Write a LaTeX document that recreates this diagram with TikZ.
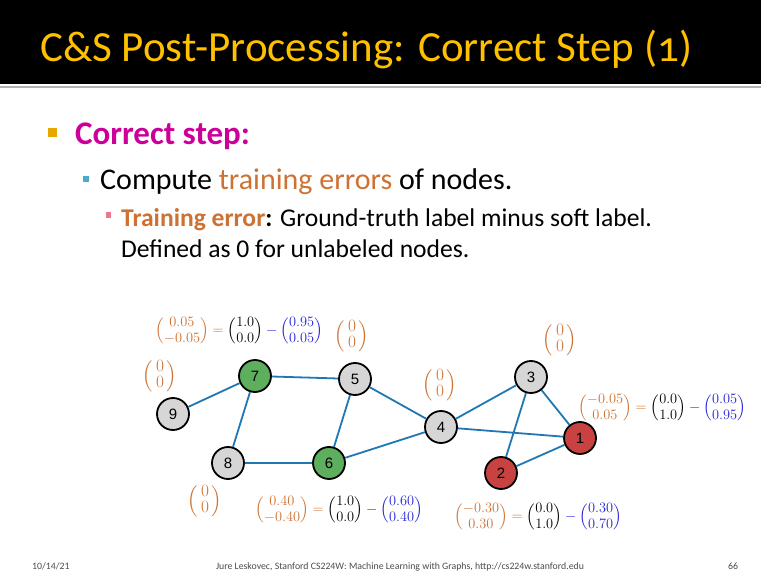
\documentclass[tikz,border=0pt]{standalone}
\usepackage{amsmath}
\usepackage{fontspec}
\setmainfont{Carlito}
\newfontfamily\titlefont[Numbers=OldStyle]{Carlito}
\newfontfamily\arialf{Liberation Sans}
\definecolor{ttlyellow}{HTML}{FFC000}
\definecolor{magent}{HTML}{CC0099}
\definecolor{orng}{HTML}{CD7232}
\definecolor{mblue}{HTML}{2323DC}
\definecolor{edgeblue}{HTML}{1F77B4}
\definecolor{ngray}{HTML}{D6D6D6}
\definecolor{ngreen}{HTML}{5DAE5D}
\definecolor{nred}{HTML}{C84242}
\definecolor{bgold}{HTML}{E6A800}
\definecolor{bcyan}{HTML}{4BACC6}
\definecolor{bpink}{HTML}{E8788A}
\newcommand{\vc}[2]{\delimiterfactor=800 \delimitershortfall=8pt \left(\renewcommand{\arraystretch}{0.95}\begin{array}{@{}c@{}}#1\\#2\end{array}\right)}
\newcommand{\zv}{\left(\renewcommand{\arraystretch}{0.85}\begin{array}{@{\,}c@{\,}}0\\0\end{array}\right)}
\newcommand{\errq}[6]{\textcolor{orng}{\vc{#1}{#2}}\mathrel{\textcolor{orng}{=}}\vc{#3}{#4}\mathbin{\textcolor{mblue}{-}}\textcolor{mblue}{\vc{#5}{#6}}}
\begin{document}
\begin{tikzpicture}[x=1pt,y=-1pt,
  gnode/.style={circle,draw=black,line width=1.8pt,minimum size=32pt,inner sep=0pt,font=\fontsize{15}{15}\arialf},
  gedge/.style={draw=edgeblue,line width=1.8pt},
  eqlab/.style={inner sep=0pt,font=\fontsize{15}{17}\selectfont},
  zlab/.style={inner sep=0pt,text=orng,font=\fontsize{16}{19}\selectfont},
  btext/.style={anchor=base west,inner sep=0pt},
  foot/.style={anchor=base,inner sep=0pt,text=black!70,font=\fontsize{9.8}{10}\selectfont}]
\useasboundingbox (0,0) rectangle (761,572);
\fill[white] (0,0) rectangle (761,572);
\fill[black] (0,0) rectangle (761,84);
\draw[gray!60,line width=1.2pt] (0,87) -- (761,87);
\node[btext,text=ttlyellow,font=\fontsize{43}{43}\titlefont] (title) at (40,62) {C\&S Post-Processing: Correct Step (1)};
% bullets
\fill[bgold] (48,128) rectangle (57,137);
\node[btext,text=magent,font=\fontsize{33}{33}\bfseries] (b1) at (75,145) {Correct step:};
\fill[bcyan] (83,176) rectangle (89,182);
\node[btext,font=\fontsize{30}{30}\selectfont] (b2) at (100,190) {Compute \textcolor{orng}{training errors} of nodes.};
\fill[bpink] (106,212) rectangle (111,218);
\node[btext,font=\fontsize{25.6}{25.6}\selectfont] (b3) at (121,227) {\textcolor{orng}{\bfseries Training error}\textbf{:} Ground-truth label minus soft label.};
\node[btext,font=\fontsize{25.6}{25.6}\selectfont] (b4) at (121,258) {Defined as 0 for unlabeled nodes.};
% graph nodes
\node[gnode,fill=ngreen] (n7) at (255,376) {7};
\node[gnode,fill=ngray] (n5) at (355,379) {5};
\node[gnode,fill=ngray] (n9) at (173,414) {9};
\node[gnode,fill=ngray] (n4) at (441,427) {4};
\node[gnode,fill=ngray] (n3) at (531,377) {3};
\node[gnode,fill=nred] (n1) at (580,438) {1};
\node[gnode,fill=nred] (n2) at (501,473) {2};
\node[gnode,fill=ngray] (n8) at (228,463) {8};
\node[gnode,fill=ngreen] (n6) at (329,463) {6};
\path[gedge] (n9) -- (n7) (n7) -- (n5) (n7) -- (n8) (n5) -- (n6) (n5) -- (n4)
  (n8) -- (n6) (n6) -- (n4) (n4) -- (n3) (n4) -- (n1) (n3) -- (n1) (n3) -- (n2) (n2) -- (n1);
% labels
\node[eqlab] (e7) at (239,331) {$\errq{0.05}{-0.05}{1.0}{0.0}{0.95}{0.05}$};
\node[eqlab] (e1) at (662,408) {$\errq{-0.05}{0.05}{0.0}{1.0}{0.05}{0.95}$};
\node[eqlab] (e6) at (339,510) {$\errq{0.40}{-0.40}{1.0}{0.0}{0.60}{0.40}$};
\node[eqlab] (e2) at (538,517) {$\errq{-0.30}{0.30}{0.0}{1.0}{0.30}{0.70}$};
\node[zlab] (z5) at (352,336) {$\zv$};
\node[zlab] (z9) at (160,376) {$\zv$};
\node[zlab] (z4) at (440,385) {$\zv$};
\node[zlab] (z3) at (560,340) {$\zv$};
\node[zlab] (z8) at (205,501) {$\zv$};
% footer
\node[foot,anchor=base west] (f1) at (32,569) {10/14/21};
\node[foot] (f2) at (400,569) {Jure Leskovec, Stanford CS224W: Machine Learning with Graphs, http://cs224w.stanford.edu};
\node[foot] (f3) at (733,569) {66};
\end{tikzpicture}
\end{document}
